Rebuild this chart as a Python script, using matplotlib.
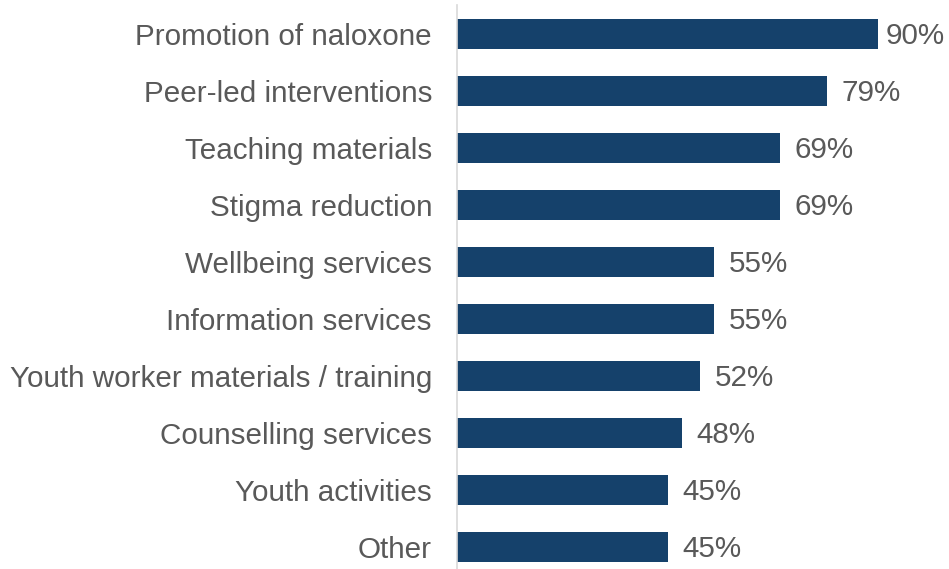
import matplotlib
matplotlib.use("Agg")
import matplotlib.pyplot as plt

categories = [
    "Promotion of naloxone",
    "Peer-led interventions",
    "Teaching materials",
    "Stigma reduction",
    "Wellbeing services",
    "Information services",
    "Youth worker materials / training",
    "Counselling services",
    "Youth activities",
    "Other",
]
values = [90, 79, 69, 69, 55, 55, 52, 48, 45, 45]

plt.rcParams["font.family"] = ["Liberation Sans", "DejaVu Sans"]
text_color = "#595959"
bar_color = "#15416B"

fig = plt.figure(figsize=(9.49, 5.69), dpi=100)
ax = fig.add_axes([457 / 949, 0, 467.8 / 949, 564 / 569])

pos = list(range(len(categories)))
ax.barh(pos, values, height=0.53, color=bar_color)

ax.set_xlim(0, 100)
ax.set_ylim(9 + 22 / 57, -29 / 57)

# value labels sit just right of each bar; pulled in if they would run off the figure
renderer = fig.canvas.get_renderer()
fig_w = fig.bbox.width
for y, v in zip(pos, values):
    t = ax.annotate(f"{v}%", (v, y), xytext=(10.5, -1.5), textcoords="offset points",
                    va="center", ha="left", fontsize=21.3, color=text_color,
                    annotation_clip=False)
    bb = t.get_window_extent(renderer)
    over = bb.x1 - (fig_w - 4)
    if over > 0:
        t.set_position((10.5 - over * 72 / fig.dpi, -1.5))

ax.set_yticks(pos)
ax.set_yticklabels(categories, fontsize=21.3, color=text_color)
ax.tick_params(axis="y", length=0, pad=18)
ax.set_xticks([])

for side in ["top", "right", "bottom"]:
    ax.spines[side].set_visible(False)
ax.spines["left"].set_color("#D9D9D9")
ax.spines["left"].set_linewidth(1.2)

fig.savefig("out.png", dpi=100)
